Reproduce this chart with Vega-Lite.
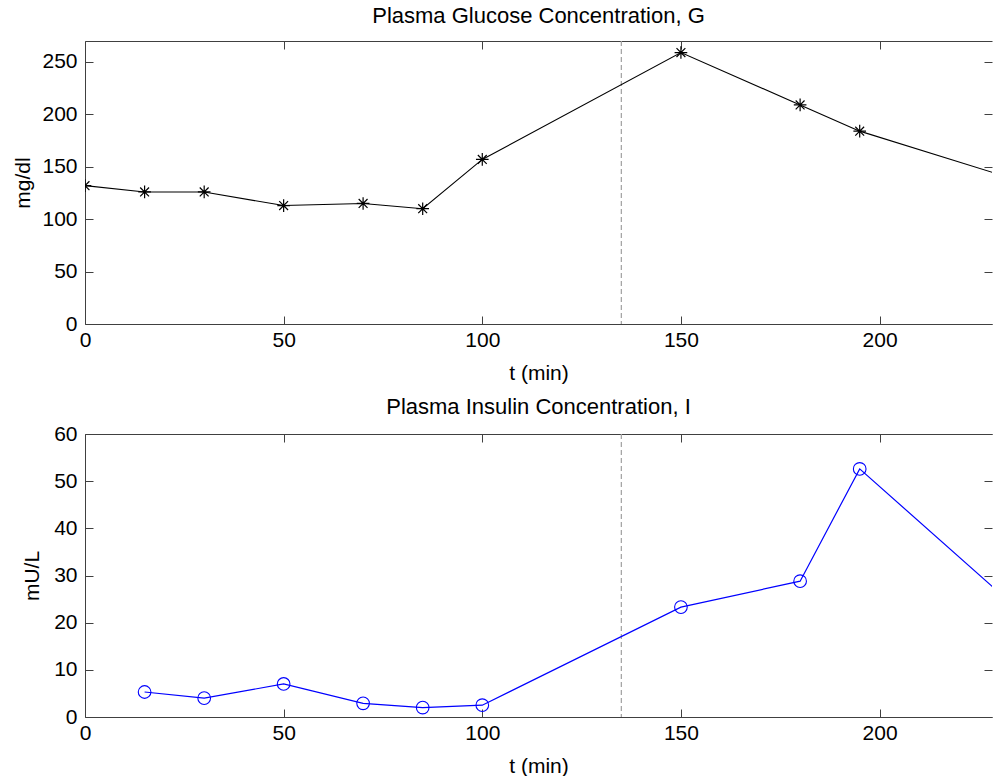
{
  "$schema": "https://vega.github.io/schema/vega-lite/v6.json",
  "padding": {"left": 12, "top": 5, "right": 0, "bottom": 0},
  "config": {
    "font": "Liberation Sans",
    "view": {"stroke": null},
    "axis": {
      "grid": false,
      "domainColor": "#404040",
      "domainWidth": 1,
      "tickColor": "#404040",
      "tickSize": -8,
      "labelFontSize": 21,
      "labelColor": "#000000",
      "labelFlush": false,
      "labelOverlap": false,
      "titleFontSize": 21,
      "titleFontWeight": "normal",
      "titleColor": "#000000"
    },
    "title": {"fontSize": 22, "fontWeight": "normal", "color": "#000000", "baseline": "alphabetic"}
  },
  "datasets": {
    "glucose": [
      {"t": 0, "G": 132},
      {"t": 15, "G": 126},
      {"t": 30, "G": 126},
      {"t": 50, "G": 113},
      {"t": 70, "G": 115},
      {"t": 85, "G": 110},
      {"t": 100, "G": 157},
      {"t": 150, "G": 259},
      {"t": 180, "G": 209},
      {"t": 195, "G": 184},
      {"t": 240, "G": 131}
    ],
    "insulin": [
      {"t": 15, "I": 5.3},
      {"t": 30, "I": 4.0},
      {"t": 50, "I": 7.0},
      {"t": 70, "I": 2.9},
      {"t": 85, "I": 2.0},
      {"t": 100, "I": 2.5},
      {"t": 150, "I": 23.3},
      {"t": 180, "I": 28.8},
      {"t": 195, "I": 52.6},
      {"t": 240, "I": 19.0}
    ],
    "marker": [{"t": 135}]
  },
  "spacing": 13,
  "vconcat": [
    {
      "title": {"text": "Plasma Glucose Concentration, G", "offset": 12},
      "width": 907,
      "height": 283,
      "layer": [
        {
          "data": {"name": "marker"},
          "mark": {"type": "rule", "color": "#a0a0a0", "strokeDash": [5, 3], "strokeWidth": 1.2},
          "encoding": {
            "x": {"field": "t", "type": "quantitative",
                  "scale": {"domain": [0, 228.3], "nice": false, "zero": false},
                  "axis": {"orient": "bottom", "values": [0, 50, 100, 150, 200], "title": "t (min)", "labelPadding": 13, "titlePadding": 12}}
          }
        },
        {
          "data": {"name": "glucose"},
          "mark": {"type": "line", "color": "#000000", "strokeWidth": 1.1, "clip": true},
          "encoding": {
            "x": {"field": "t", "type": "quantitative",
                  "axis": {"orient": "top", "values": [0, 50, 100, 150, 200], "labels": false, "title": null}},
            "y": {"field": "G", "type": "quantitative",
                  "scale": {"domain": [0, 270], "nice": false, "zero": false},
                  "axis": {"orient": "left", "values": [0, 50, 100, 150, 200, 250], "title": "mg/dl", "labelPadding": 16, "titlePadding": 8}}
          }
        },
        {
          "data": {"name": "glucose"},
          "mark": {"type": "point", "shape": "M-1,0L1,0M0,-1L0,1M-0.7,-0.7L0.7,0.7M-0.7,0.7L0.7,-0.7", "filled": false, "color": "#000000", "strokeWidth": 1.2, "size": 160, "opacity": 1, "clip": true},
          "encoding": {
            "x": {"field": "t", "type": "quantitative", "axis": null},
            "y": {"field": "G", "type": "quantitative",
                  "axis": {"orient": "right", "values": [0, 50, 100, 150, 200, 250], "labels": false, "domain": false, "title": null}}
          }
        }
      ]
    },
    {
      "title": {"text": "Plasma Insulin Concentration, I", "offset": 4},
      "width": 907,
      "height": 283,
      "layer": [
        {
          "data": {"name": "marker"},
          "mark": {"type": "rule", "color": "#a0a0a0", "strokeDash": [5, 3], "strokeWidth": 1.2},
          "encoding": {
            "x": {"field": "t", "type": "quantitative",
                  "scale": {"domain": [0, 228.3], "nice": false, "zero": false},
                  "axis": {"orient": "bottom", "values": [0, 50, 100, 150, 200], "title": "t (min)", "labelPadding": 13, "titlePadding": 12}}
          }
        },
        {
          "data": {"name": "insulin"},
          "mark": {"type": "line", "color": "#0000ff", "strokeWidth": 1.2, "clip": true},
          "encoding": {
            "x": {"field": "t", "type": "quantitative",
                  "axis": {"orient": "top", "values": [0, 50, 100, 150, 200], "labels": false, "title": null}},
            "y": {"field": "I", "type": "quantitative",
                  "scale": {"domain": [0, 60], "nice": false, "zero": false},
                  "axis": {"orient": "left", "values": [0, 10, 20, 30, 40, 50, 60], "title": "mU/L", "labelPadding": 16, "titlePadding": 11}}
          }
        },
        {
          "data": {"name": "insulin"},
          "mark": {"type": "point", "shape": "circle", "filled": false, "color": "#0000ff", "strokeWidth": 1.1, "size": 160, "opacity": 1, "clip": true},
          "encoding": {
            "x": {"field": "t", "type": "quantitative", "axis": null},
            "y": {"field": "I", "type": "quantitative",
                  "axis": {"orient": "right", "values": [0, 10, 20, 30, 40, 50, 60], "labels": false, "domain": false, "title": null}}
          }
        }
      ]
    }
  ]
}
